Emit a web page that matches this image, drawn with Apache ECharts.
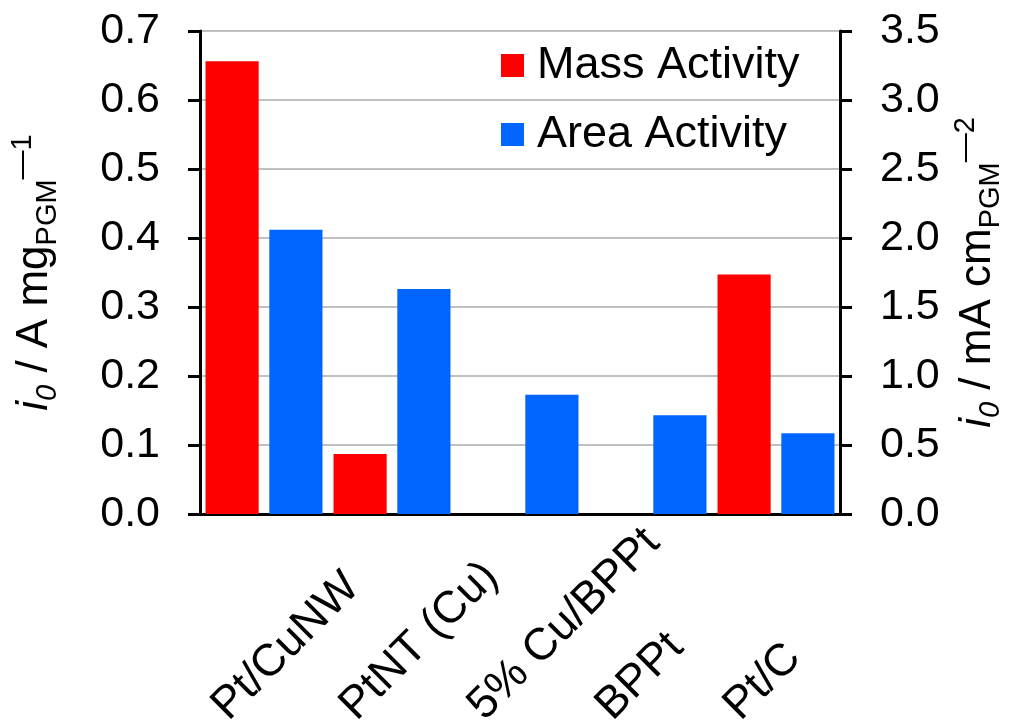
<!DOCTYPE html>
<html>
<head>
<meta charset="utf-8">
<script src="https://cdn.jsdelivr.net/npm/echarts@6/dist/echarts.min.js"></script>
<style>
  html, body { margin: 0; padding: 0; background: #ffffff; }
  #chart { width: 1012px; height: 724px; }
</style>
</head>
<body>
<div id="chart"></div>
<script>
// Catalyst samples along the x axis
const categories = ['Pt/CuNW', 'PtNT (Cu)', '5% Cu/BPPt', 'BPPt', 'Pt/C'];
// Exchange current density per PGM mass, A mg^-1 (left axis)
const massActivity = [0.656, 0.087, null, null, 0.347];
// Exchange current density per PGM area, mA cm^-2 (right axis)
const areaActivity = [2.06, 1.63, 0.865, 0.715, 0.585];
// Axis ranges and steps
const leftRange = [0, 0.7, 0.1];
const rightRange = [0, 3.5, 0.5];
const seriesNames = ['Mass Activity', 'Area Activity'];

const FONT = 'Liberation Sans, Arial, sans-serif';
const BLACK = '#000000';

const titleRich = {
  it:    { fontFamily: FONT, fontSize: 44, fontStyle: 'italic', color: BLACK, lineHeight: 54, verticalAlign: 'middle' },
  itsub: { fontFamily: FONT, fontSize: 29, fontStyle: 'italic', color: BLACK, lineHeight: 24, verticalAlign: 'bottom' },
  n:     { fontFamily: FONT, fontSize: 44, color: BLACK, lineHeight: 54, verticalAlign: 'middle' },
  sub:   { fontFamily: FONT, fontSize: 29, color: BLACK, lineHeight: 24, verticalAlign: 'bottom' },
  sup:   { fontFamily: FONT, fontSize: 29, color: BLACK, lineHeight: 38, verticalAlign: 'top' }
};

function valueAxis(range, position, name, nameGap, showSplit) {
  return {
    type: 'value',
    position: position,
    min: range[0],
    max: range[1],
    interval: range[2],
    name: name,
    nameLocation: 'middle',
    nameRotate: 90,
    nameGap: nameGap,
    nameTextStyle: { rich: titleRich },
    axisLine: { show: true, lineStyle: { color: BLACK, width: 3 } },
    axisTick: { show: true, inside: false, length: 12, lineStyle: { color: BLACK, width: 3 } },
    axisLabel: {
      margin: 40,
      fontFamily: FONT,
      fontSize: 43,
      color: BLACK,
      formatter: v => v.toFixed(1)
    },
    splitLine: { show: showSplit, lineStyle: { color: '#c0c0c0', width: 2 } }
  };
}

const chart = echarts.init(document.getElementById('chart'), null, { renderer: 'canvas' });

chart.setOption({
  animation: false,
  backgroundColor: '#ffffff',
  grid: { left: 200, right: 172, top: 31, bottom: 210, containLabel: false, outerBoundsMode: 'none' },
  legend: {
    data: seriesNames,
    orient: 'vertical',
    left: 501,
    top: 43,
    padding: 0,
    itemWidth: 23,
    itemHeight: 23,
    itemGap: 24,
    icon: 'rect',
    textStyle: { fontFamily: FONT, fontSize: 45, color: BLACK, padding: [0, 0, 0, 8] }
  },
  xAxis: [
    {
      type: 'category',
      data: categories,
      position: 'bottom',
      axisLine: { show: true, lineStyle: { color: BLACK, width: 3 } },
      axisTick: { show: false },
      axisLabel: {
        interval: 0,
        rotate: 45,
        align: 'left',
        verticalAlign: 'bottom',
        padding: [0, 0, 40, 0],
        margin: 243,
        fontFamily: FONT,
        fontSize: 45,
        color: BLACK
      },
      splitLine: { show: false }
    },
    {
      type: 'category',
      data: categories,
      position: 'top',
      axisLine: { show: true, lineStyle: { color: BLACK, width: 3 } },
      axisTick: { show: false },
      axisLabel: { show: false },
      splitLine: { show: false }
    }
  ],
  yAxis: [
    valueAxis(leftRange, 'left', '{it|i}{itsub|0}{n| / A mg}{sub|PGM}{sup|—1}', 138, true),
    valueAxis(rightRange, 'right', '{it|i}{itsub|0}{n| / mA cm}{sub|PGM}{sup|—2}', 111, false)
  ],
  series: [
    {
      name: seriesNames[0],
      type: 'bar',
      xAxisIndex: 0,
      yAxisIndex: 0,
      data: massActivity,
      barGap: '20%',
      barCategoryGap: '8.6%',
      itemStyle: { color: '#ff0000' }
    },
    {
      name: seriesNames[1],
      type: 'bar',
      xAxisIndex: 0,
      yAxisIndex: 1,
      data: areaActivity,
      barGap: '20%',
      barCategoryGap: '8.6%',
      itemStyle: { color: '#0066ff' }
    }
  ]
});
</script>
</body>
</html>
